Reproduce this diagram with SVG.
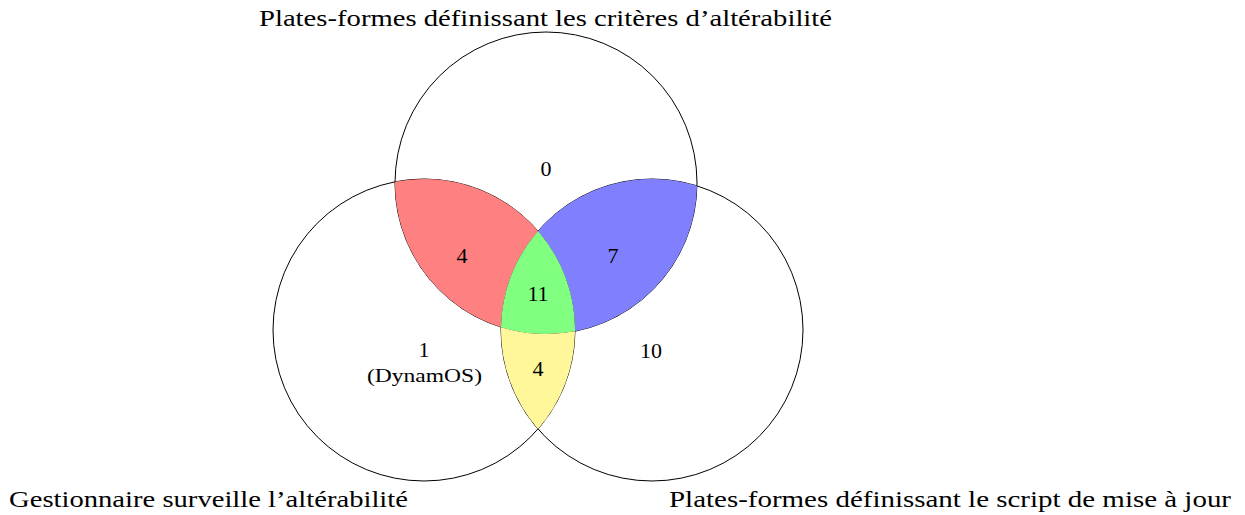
<svg xmlns="http://www.w3.org/2000/svg" width="1245" height="515" viewBox="0 0 1245 515">
<style>
.c{fill:none;stroke:#000;stroke-width:1}
.t{font-family:"Liberation Serif","DejaVu Serif",serif;font-size:23px;fill:#000}
.n{font-family:"Liberation Serif","DejaVu Serif",serif;font-size:22px;fill:#000;text-anchor:middle}
.s{font-family:"Liberation Serif","DejaVu Serif",serif;font-size:18px;fill:#000}
</style>
<rect width="1245" height="515" fill="#fff"/>
<g id="circles" class="connectors">
<circle id="circle-top" class="c" cx="546" cy="183" r="151"/>
<circle id="circle-left" class="c" cx="424" cy="330" r="151"/>
<circle id="circle-right" class="c" cx="652" cy="330" r="151"/>
</g>
<g id="region-red">
<path fill="#ff8080" d="M395,181.8 A151,151 0 0 1 538,231 A151,151 0 0 0 501,327.2 A151,151 0 0 1 395,181.8 Z"/>
<text class="n" x="462" y="263">4</text>
</g>
<g id="region-blue">
<path fill="#8080ff" d="M538,231 A151,151 0 0 1 697,185.8 A151,151 0 0 1 575,331.2 A151,151 0 0 0 538,231 Z"/>
<text class="n" x="613" y="263">7</text>
</g>
<g id="region-green">
<path fill="#80ff80" d="M538,231 A151,151 0 0 1 575,331.2 A151,151 0 0 1 501,327.2 A151,151 0 0 1 538,231 Z"/>
<text class="n" x="538" y="301">11</text>
</g>
<g id="region-yellow">
<path fill="#fff799" d="M501,327.2 A151,151 0 0 0 575,331.2 A151,151 0 0 1 538,429 A151,151 0 0 1 501,327.2 Z"/>
<text class="n" x="538" y="376">4</text>
</g>
<g id="region-top-only">
<text class="n" x="546" y="176">0</text>
</g>
<g id="region-left-only">
<text class="n" x="424" y="357">1</text>
<text class="s" x="367" y="382" textLength="115" lengthAdjust="spacingAndGlyphs">(DynamOS)</text>
</g>
<g id="region-right-only">
<text class="n" x="651" y="358">10</text>
</g>
<g id="labels">
<text class="t" x="259" y="26" textLength="573" lengthAdjust="spacingAndGlyphs">Plates-formes définissant les critères d’altérabilité</text>
<text class="t" x="9" y="507" textLength="399" lengthAdjust="spacingAndGlyphs">Gestionnaire surveille l’altérabilité</text>
<text class="t" x="669" y="507" textLength="562" lengthAdjust="spacingAndGlyphs">Plates-formes définissant le script de mise à jour</text>
</g>
</svg>
